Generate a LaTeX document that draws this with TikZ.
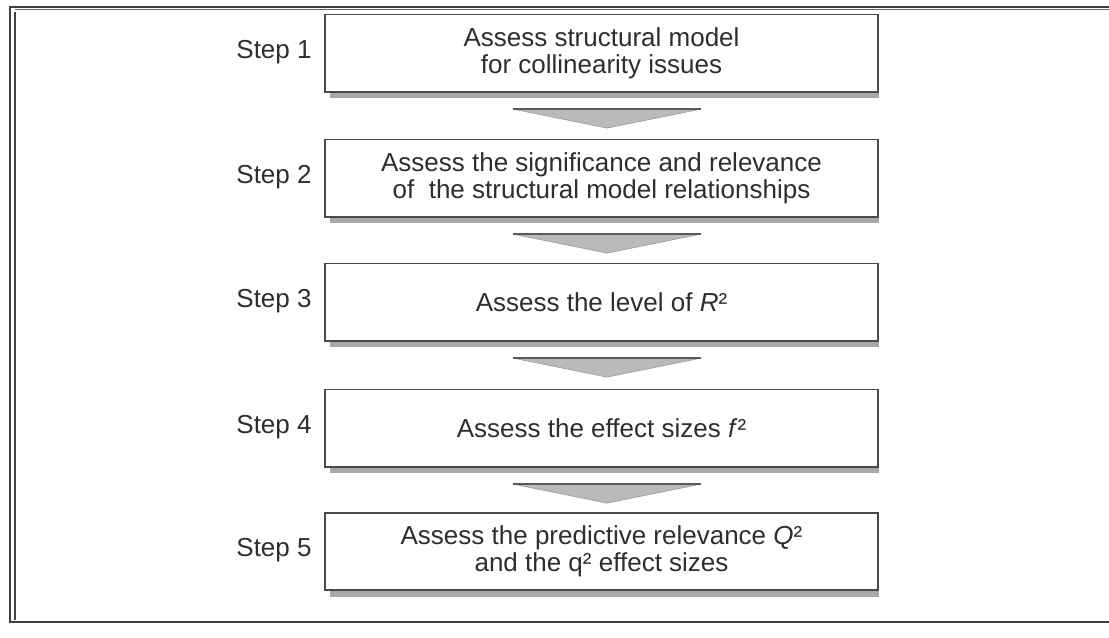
\documentclass[tikz,border=0pt]{standalone}
\usepackage{fontspec}
\setmainfont{Liberation Sans}
\usetikzlibrary{calc}
\definecolor{boxline}{HTML}{4A4A4A}
\definecolor{shadowgray}{HTML}{A8A8A8}
\definecolor{arrowfill}{HTML}{BABABA}
\definecolor{arrowline}{HTML}{5A5A5A}
\definecolor{txt}{HTML}{2E2E2E}
\begin{document}
\begin{tikzpicture}[x=0.75pt,y=-0.75pt,
  stepbox/.style={draw=boxline, line width=0.9pt, fill=white, minimum width=414.75pt,
    minimum height=57.75pt, inner sep=0pt, align=center, text=txt,
    font=\fontsize{19.5}{20.5}\selectfont},
  steplabel/.style={text=txt, font=\fontsize{19.5}{20.5}\selectfont, inner sep=0pt},
  framestyle/.style={draw=black!75, line width=1.1pt},
  shadowstyle/.style={fill=shadowgray},
  arrowstyle/.style={fill=arrowfill, draw=arrowfill!80!black, line width=0.4pt},
  arrowtop/.style={draw=arrowline, line width=1pt}
]
\useasboundingbox (0,0) rectangle (1109,637);
\fill[white] (0,0) rectangle (1109,637);
% frame
\draw[framestyle] (1109,7) -- (10,7) -- (10,622) -- (1109,622);
\draw[framestyle] (15,12) -- (15,620);
\draw[draw=black!60, line width=0.6pt] (15,9) -- (1109,9);

% boxes
\node[stepbox] (b1) at (601.5,53) {Assess structural model\\for collinearity issues};
\node[stepbox] (b2) at (601.5,178) {Assess the significance and relevance\\of\ \ the structural model relationships};
\node[stepbox] (b3) at (601.5,302) {Assess the level of \textit{R}²};
\node[stepbox] (b4) at (601.5,428) {Assess the effect sizes \textit{f}²};
\node[stepbox] (b5) at (601.5,551.5) {Assess the predictive relevance \textit{Q}²\\and the q² effect sizes};

% shadows
\foreach \b in {b1,b2,b3,b4,b5}{
  \fill[shadowstyle] ($(\b.south west)+(6,0.8)$) rectangle ($(\b.south east)+(0,6)$);
  \draw[boxline, line width=0.9pt] (\b.south west) -- (\b.south east);
}

% step labels
\node[steplabel] (s1) at (274,52) {Step 1};
\node[steplabel] (s2) at (274,177) {Step 2};
\node[steplabel] (s3) at (274,301) {Step 3};
\node[steplabel] (s4) at (274,427) {Step 4};
\node[steplabel] (s5) at (274,550) {Step 5};

% arrows between boxes
\foreach \a/\b in {b1/b2,b2/b3,b3/b4,b4/b5}{
  \coordinate (L) at ($(\a.south)+(-88.5,17)$);
  \coordinate (R) at ($(\a.south)+(99.5,17)$);
  \coordinate (T) at ($(\a.south)+(5.5,36)$);
  \filldraw[arrowstyle] (L) -- (R) -- (T) -- cycle;
  \draw[arrowtop] (L) -- (R);
}
\end{tikzpicture}
\end{document}
